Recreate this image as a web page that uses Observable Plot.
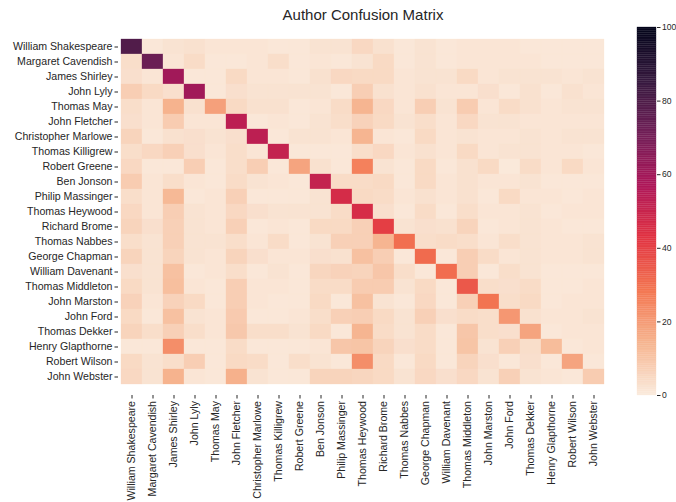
<!DOCTYPE html>
<html><head><meta charset="utf-8">
<script src="https://cdn.jsdelivr.net/npm/d3@7"></script>
<script src="https://cdn.jsdelivr.net/npm/@observablehq/plot@0.6"></script>
<style>
body{margin:0;background:#fff}
#wrap{position:relative;width:676px;height:502px;overflow:hidden}
#wrap svg{position:absolute;top:0}
</style></head><body><div id="wrap"></div>
<script>
const chartTitle = "Author Confusion Matrix";
const authors = ["William Shakespeare","Margaret Cavendish","James Shirley","John Lyly","Thomas May","John Fletcher","Christopher Marlowe","Thomas Killigrew","Robert Greene","Ben Jonson","Philip Massinger","Thomas Heywood","Richard Brome","Thomas Nabbes","George Chapman","William Davenant","Thomas Middleton","John Marston","John Ford","Thomas Dekker","Henry Glapthorne","Robert Wilson","John Webster"];
// rows: actual author, columns: predicted author (percent)
const matrix = [
[79,1,2,2.5,1.5,1.5,1.5,1,1,2,2,5,2.5,1,2,1,1.5,1.5,1.5,1,1,1,1],
[3.5,73,1.5,4,1,1,1.5,3.5,1,1.5,1,2,4.5,1,2,1,1.5,1.5,1.5,1.5,1,1,1],
[3,1.5,60,1,1,4.5,1.5,1.5,1,2.5,5,4.5,4.5,1.5,2,2,4.5,1.5,2,2,2,1.5,2],
[7.5,4.5,3,60,1,3,2,2,2,2,1,7.5,2.5,1.5,2.5,1.5,1.5,3,1,2.5,1,2.5,1.5],
[3.5,1.5,14.5,2.5,19,4.5,2.5,2.5,1,1.5,4,14,5,1.5,7.5,2,8,1.5,4,2.5,1.5,2,2],
[3,1.5,8,1.5,1.5,53,1,1.5,1,2,3.5,6.5,4.5,2,3.5,1.5,5,2,2,1.5,1.5,1.5,1.5],
[6,1,2.5,3,2,3,53,1,2,2,1.5,14,1.5,1,4.5,1.5,2,1.5,1.5,2,1.5,2,2],
[3.5,5,7,3,1.5,3.5,1.5,51,1,1,1,3.5,5,1.5,2.5,1.5,4.5,1.5,2,2,1.5,1.5,1],
[5,1,1,7.5,1,3.5,7.5,1,18,2.5,1,26,2,1,4.5,1,2.5,4.5,0.5,4,1.5,4.5,1.5],
[8,1.5,3.5,1.5,1,4,2,1.5,1,51,4,4,4.5,1,4.5,1.5,2.5,1.5,1.5,2,1,1,1],
[3.5,1.5,13,1,1.5,7,1,1,1,2,46.5,4.5,4,1.5,2.5,1.5,2.5,1,4.5,1.5,1.5,1,1.5],
[5,1.5,7.5,2,1.5,5,3,2,2,2,4,46,3,1,4,1,3.5,1.5,1.5,2,1,1.5,1.5],
[6,3,7,2,1.5,7,1,1.5,1,4.5,4.5,7,40.5,2,3,2.5,6,1,1.5,2,1.5,1,1],
[3.5,2,7,2,2,3.5,1.5,4,1,2,7,7,14,30,3.5,4,3.5,1.5,3.5,2,1.5,1.5,2],
[6,2,6,2,1.5,6,3,1.5,1.5,3,2.5,11,7.5,1,31,1,7.5,4,1.5,2,1.5,1.5,2],
[3,2,11,1,1.5,3.5,1,2,1,5.5,6.5,6,9.5,3.5,1,30.5,7.5,1,3.5,2,1,1,1],
[4.5,2,11.5,1.5,1,7.5,1.5,1.5,1,4,4,8,8,2,4.5,1,35,3.5,3,4,1,1,1.5],
[6.5,1.5,6.5,4.5,1,7.5,1.5,1,1,4.5,1,11,2,1,5,1,7,29,3.5,4.5,1,1.5,1.5],
[4.5,1,11,2,1.5,8.5,1,1,1.5,3.5,7,7.5,4.5,2,7,3,4,3.5,21,2.5,1.5,1.5,2],
[6,3.5,7,3.5,1.5,9,3.5,3.5,2,4.5,1,14,4,2,4,1,9.5,3.5,3,18,1,1.5,1.5],
[1,1,23,1,1,4,1,1,1,1.5,9.5,10,6,3,4,1,10,2,7,3.5,12,1,1.5],
[4.5,2,3.5,7.5,1,4.5,4,1,3.5,2,1,23,4.5,1,4.5,1,6,3,1,3,1,18,1],
[5,2,14.5,1.5,1,15,2,1,1,6,6,5.5,4.5,2,5,3,5,2,7,2,1.5,1,8]
];
const colorbarTicks = [0, 20, 40, 60, 80, 100];
const rocketStops = ["#faebdd","#f6b48f","#f37651","#e13342","#ad1759","#701f57","#35193e","#03051a"];

const cells = [];
authors.forEach((a, i) => authors.forEach((b, j) => cells.push({actual: a, predicted: b, value: matrix[i][j]})));

const colorOpts = {
  type: "linear",
  domain: rocketStops.map((_, i) => 100 * i / (rocketStops.length - 1)),
  range: rocketStops,
  interpolate: "rgb",
  clamp: true
};
const font = "'Liberation Sans', Arial, Helvetica, sans-serif";
const textColor = "#262626";

const main = Plot.plot({
  width: 676, height: 502,
  marginLeft: 118, marginRight: 69, marginTop: 28, marginBottom: 107,
  style: {fontFamily: font, fontSize: "10.6px", color: textColor, background: "transparent", overflow: "visible"},
  x: {domain: authors, padding: 0, label: null, tickRotate: -90, tickSize: 3.5, tickPadding: 2},
  y: {domain: authors, padding: 0, label: null, tickSize: 3.5, tickPadding: 2.5},
  color: colorOpts,
  marks: [
    Plot.cell(cells, {x: "predicted", y: "actual", fill: "value", stroke: "value", strokeWidth: 0.3}),
    Plot.text([chartTitle], {text: d => d, frameAnchor: "top", lineAnchor: "middle", dy: -13, fontSize: 15, fill: textColor})
  ]
});

const barSteps = d3.range(0, 100, 0.5);
const bar = Plot.plot({
  width: 39, height: 502,
  marginLeft: 0, marginRight: 20, marginTop: 27, marginBottom: 107,
  style: {fontFamily: font, fontSize: "8.6px", color: textColor, background: "transparent", overflow: "visible"},
  x: {domain: [0, 1], axis: null},
  y: {domain: [0, 100], axis: "right", ticks: colorbarTicks, tickSize: 3.5, tickPadding: 2, label: null},
  color: colorOpts,
  marks: [
    Plot.rect(barSteps, {x1: 0, x2: 1, y1: d => d, y2: d => d + 0.5, fill: d => d + 0.25, stroke: d => d + 0.25, strokeWidth: 0.3})
  ]
});
bar.style.left = "637px";

const wrap = document.getElementById("wrap");
wrap.appendChild(main);
wrap.appendChild(bar);
</script></body></html>
